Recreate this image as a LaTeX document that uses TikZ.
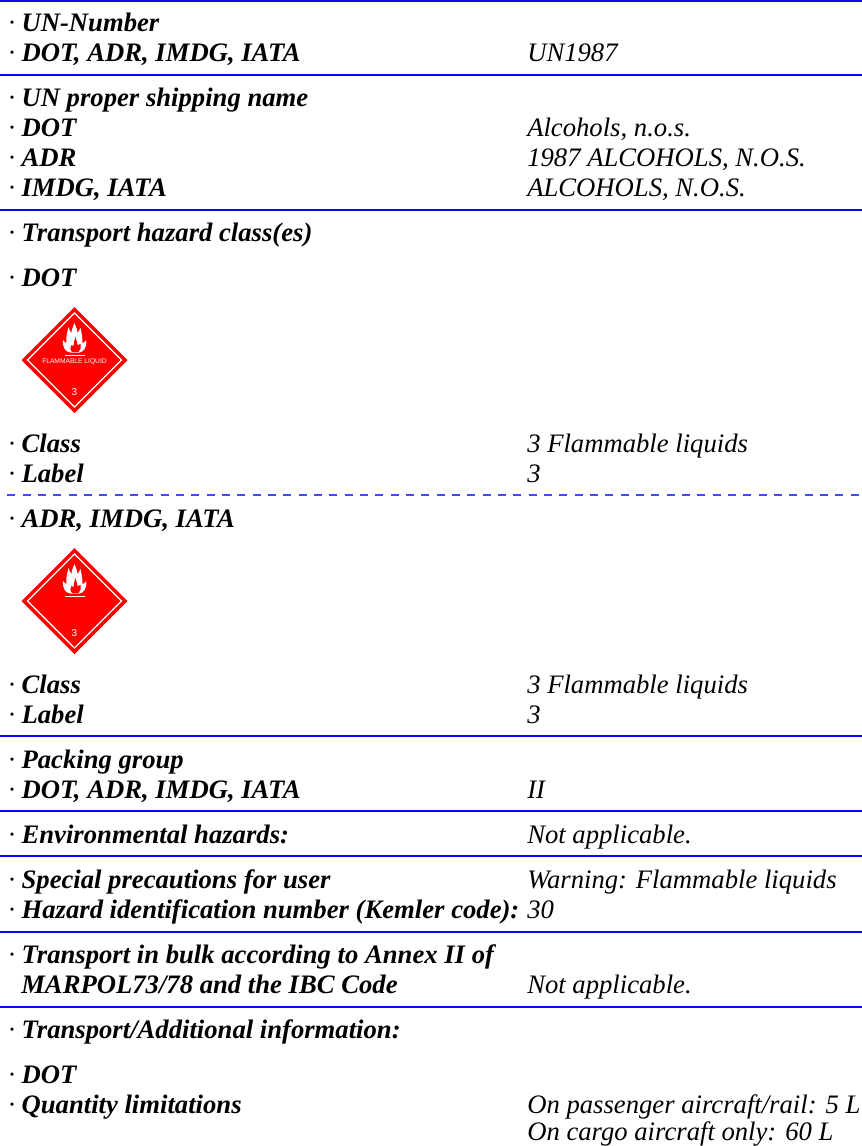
\documentclass[tikz,border=0pt]{standalone}
\usepackage{fontspec}
\setmainfont{Liberation Serif}
\definecolor{hazred}{RGB}{255,0,0}
\definecolor{rulecol}{RGB}{10,10,240}
\begin{document}
\begin{tikzpicture}[x=0.75pt,y=-0.75pt,
  lab/.style={anchor=base west,inner sep=0pt,font=\fontsize{20}{22}\selectfont\itshape},
  sep rule/.style={draw=rulecol,line width=1.1pt},
  dash rule/.style={draw=rulecol!75,line width=0.8pt,dash pattern=on 6pt off 5.5pt}]
\useasboundingbox (0,0) rectangle (862,1146);
\newcommand{\lft}[3]{\node[lab] (#1) at (8,#2) {·\ \textbf{#3}};}
\newcommand{\val}[3]{\node[lab] (#1) at (527,#2) {#3};}
\newcommand{\seprule}[2]{\coordinate (#1a) at (0,#2);\coordinate (#1b) at (862,#2);\draw[sep rule] (#1a) -- (#1b);}
\seprule{r0}{1}\seprule{r1}{75}\seprule{r2}{210}\seprule{r4}{736}\seprule{r5}{811}\seprule{r6}{856}\seprule{r7}{932}\seprule{r8}{1007}
\coordinate (da) at (7.3,495);\coordinate (db) at (862,495);\draw[dash rule] (da) -- (db);
\lft{a}{31}{UN-Number}
\lft{b}{61}{DOT, ADR, IMDG, IATA}\val{bv}{61}{UN1987}
\lft{c}{106}{UN proper shipping name}
\lft{d}{136}{DOT}\val{dv}{136}{Alcohols, n.o.s.}
\lft{e}{166}{ADR}\val{ev}{166}{1987 ALCOHOLS, N.O.S.}
\lft{f}{196}{IMDG, IATA}\val{fv}{196}{ALCOHOLS, N.O.S.}
\lft{g}{241}{Transport hazard class(es)}
\lft{h}{286}{DOT}
\lft{i}{452}{Class}\val{iv}{452}{3 Flammable liquids}
\lft{j}{482}{Label}\val{jv}{482}{3}
\lft{k}{527}{ADR, IMDG, IATA}
\lft{l}{693}{Class}\val{lv}{693}{3 Flammable liquids}
\lft{m}{723}{Label}\val{mv}{723}{3}
\lft{n}{768}{Packing group}
\lft{o}{798}{DOT, ADR, IMDG, IATA}\val{ov}{798}{II}
\lft{p}{843}{Environmental hazards:}\val{pv}{843}{Not applicable.}
\lft{q}{888}{Special precautions for user}\val{qv}{888}{Warning: Flammable liquids}
\lft{r}{918}{Hazard identification number (Kemler code):}\val{rv}{918}{30}
\lft{s}{963}{Transport in bulk according to Annex II of}
\node[lab] (t) at (21,993) {\textbf{MARPOL73/78 and the IBC Code}};\val{tv}{993}{Not applicable.}
\lft{u}{1038}{Transport/Additional information:}
\lft{v}{1083}{DOT}
\lft{w}{1113}{Quantity limitations}\val{wv}{1113}{On passenger aircraft/rail: 5 L}
\val{xv}{1140}{On cargo aircraft only: 60 L}
% placards
\newcommand{\placard}[2]{%
 \begin{scope}[shift={(74.5,#1)}]
  \fill[hazred] (0,-53) -- (53,0) -- (0,53) -- (-53,0) -- cycle;
  \draw[white,line width=1pt] (0,-47) -- (47,0) -- (0,47) -- (-47,0) -- cycle;
  \fill[white] (-4,-7.5) .. controls (-9,-8) and (-12,-12) .. (-11.5,-20)
    .. controls (-10,-18) and (-9,-17) .. (-8,-17)
    .. controls (-9,-23) and (-7,-28) .. (-6,-33)
    .. controls (-5,-30) and (-4,-28) .. (-3,-27)
    .. controls (-3,-31) and (-1,-34) .. (0,-37)
    .. controls (1,-34) and (3,-30) .. (3,-27)
    .. controls (4,-28) and (5,-30) .. (6,-32)
    .. controls (7,-28) and (8,-22) .. (8,-17)
    .. controls (9,-17) and (11,-18) .. (11.5,-20)
    .. controls (13,-13) and (9,-8) .. (5,-7.5) -- cycle;
  \fill[hazred] (-2.5,-8) .. controls (-5,-11) and (-4,-13) .. (-3,-15)
    .. controls (-2,-14) and (-1.5,-14) .. (-1,-14)
    .. controls (-1,-17) and (0,-20) .. (1,-23)
    .. controls (2,-19) and (3,-17) .. (3,-15)
    .. controls (4,-15) and (5,-15) .. (6,-16)
    .. controls (7,-13) and (6,-10) .. (4,-8) -- cycle;
  \fill[white] (-9.5,-5) rectangle (10.5,-3.8);
  #2
  \node[font=\fontsize{7.5}{8}\selectfont,text=white,inner sep=0pt] at (0,32) {\fontspec{Liberation Sans}3};
 \end{scope}}
\placard{360}{\node[font=\fontsize{5}{5}\selectfont,text=white,inner sep=0pt] at (0,2) {\fontspec{Liberation Sans}FLAMMABLE LIQUID};}
\placard{601}{}
\end{tikzpicture}
\end{document}
